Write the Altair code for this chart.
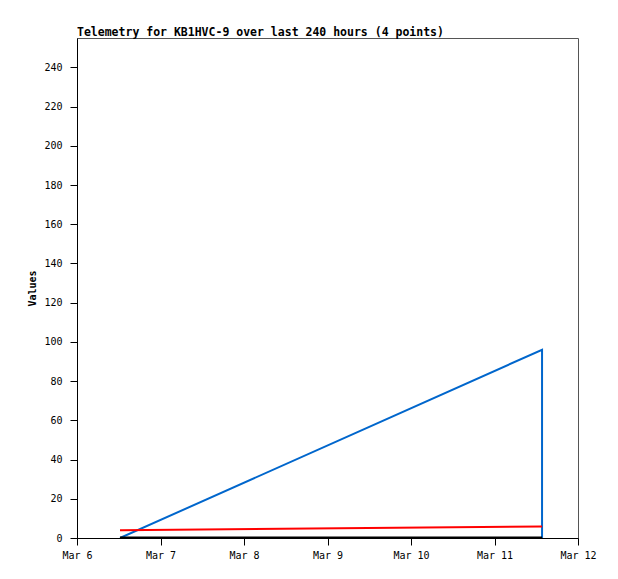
import altair as alt
import pandas as pd

title_text = "Telemetry for KB1HVC-9 over last 240 hours (4 points)"
series_names = ["blue", "blue", "blue", "red", "red", "black", "black"]
times = ["2024-03-06T12:22:00Z", "2024-03-11T13:40:00Z", "2024-03-11T13:40:00Z",
         "2024-03-06T12:22:00Z", "2024-03-11T13:40:00Z",
         "2024-03-06T12:22:00Z", "2024-03-11T13:40:00Z"]
values = [0, 96, 0, 3.9, 5.9, 0, 0]
order = [0, 1, 2, 0, 1, 0, 1]
x_domain = ["2024-03-06T00:00:00Z", "2024-03-12T00:00:00Z"]
y_ticks = list(range(0, 241, 20))
colors = {"blue": "#0066CC", "red": "#FF0000", "black": "#000000"}
widths = {"blue": 2, "red": 2, "black": 3}

df = pd.DataFrame({"series": series_names, "t": times, "v": values, "o": order})

FONT = "DejaVu Sans Mono"

x_enc = alt.X("t:T",
              scale=alt.Scale(type="utc", domain=x_domain),
              axis=alt.Axis(title=None, tickCount={"interval": "day", "step": 1},
                            labelExpr="utcFormat(datum.value, '%b %-d')",
                            labelFlush=False, labelAlign="center",
                            grid=False, tickSize=7, labelPadding=5,
                            domainColor="black", tickColor="black"))
y_enc = alt.Y("v:Q",
              scale=alt.Scale(domain=[0, 255], nice=False, zero=True),
              axis=alt.Axis(title="Values", values=y_ticks, grid=False, tickSize=7,
                            labelPadding=8, domainColor="black", tickColor="black",
                            labelFlush=False,
                            titleFont=FONT, titleFontSize=10, titleFontWeight="bold",
                            titlePadding=6))

layers = []
for name in ["blue", "red", "black"]:
    layers.append(
        alt.Chart(df).transform_filter(alt.datum.series == name)
        .mark_line(color=colors[name], strokeWidth=widths[name], clip=True)
        .encode(x=x_enc, y=y_enc, order="o:Q")
    )

chart = alt.layer(*layers).properties(
    width=501, height=500,
    title=alt.TitleParams(title_text, anchor="start", frame="group", font=FONT,
                          fontSize=11.5, fontWeight="bold", offset=0, color="black"),
    autosize=alt.AutoSizeParams(type="none"),
    padding={"left": 69, "top": 30, "right": 30, "bottom": 33},
).configure_view(stroke="#555", strokeWidth=1).configure_axis(
    labelFont=FONT, labelFontSize=10, labelColor="black"
)

chart.save("out.html", embed_options={"renderer": "svg", "actions": False})
